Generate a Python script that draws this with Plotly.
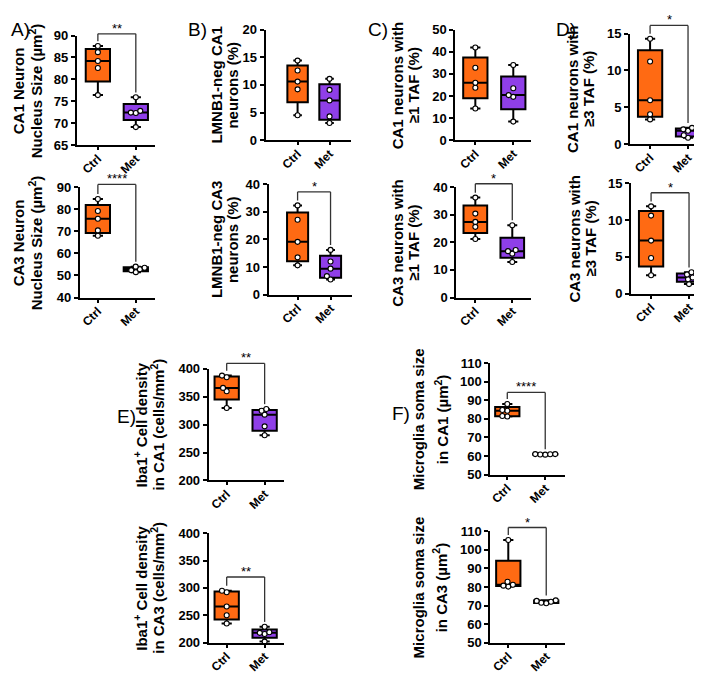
import numpy as np
import plotly.graph_objects as go

W, H = 702, 673

# ---------------- data ----------------
groups = ["Ctrl", "Met"]

a1_ctrl = [76.4, 82.6, 84.2, 86.2, 87.6]
a1_met = [69.1, 72.3, 72.4, 72.8, 75.9]
a2_ctrl = [68.0, 70.4, 75.7, 79.2, 84.6]
a2_met = [51.5, 52.4, 52.8, 53.5, 54.0]

b1_ctrl = [4.5, 9.2, 10.6, 12.6, 14.4]
b1_met = [3.1, 4.3, 7.2, 9.1, 11.1]
b2_ctrl = [10.6, 13.5, 19.1, 27.1, 32.3]
b2_met = [5.5, 6.7, 9.4, 12.0, 16.2]

c1_ctrl = [14.3, 23.7, 26.0, 32.8, 41.9]
c1_met = [8.4, 19.6, 20.4, 23.5, 34.0]
c2_ctrl = [21.2, 25.6, 27.4, 30.4, 36.2]
c2_met = [12.9, 15.9, 16.8, 17.2, 26.2]

d1_ctrl = [3.35, 4.05, 5.95, 11.2, 14.3]
d1_met = [0.85, 1.2, 1.8, 2.0, 2.2]
d2_ctrl = [2.5, 4.85, 7.2, 10.6, 11.85]
d2_met = [1.3, 1.95, 2.2, 2.6, 2.9]

e1_ctrl = [330, 360, 366, 385, 388]
e1_met = [281, 297, 318, 325, 328]
e2_ctrl = [235, 250, 266, 292, 295]
e2_met = [202, 216, 218, 219, 229]

f1_ctrl = [81.2, 81.5, 84.3, 84.7, 88.0]
f1_met = [60.7, 60.8, 60.9, 61.0, 61.0]
f2_ctrl = [80.2, 80.7, 81.2, 82.8, 105.3]
f2_met = [71.2, 71.5, 72.0, 72.5, 72.8]

y_titles = [
    ("CA1 Neuron", "Nucleus Size (µm<sup>2</sup>)"),
    ("CA3 Neuron", "Nucleus Size (µm<sup>2</sup>)"),
    ("LMNB1-neg CA1", "neurons (%)"),
    ("LMNB1-neg CA3", "neurons (%)"),
    ("CA1 neurons with", "≥1 TAF (%)"),
    ("CA3 neurons with", "≥1 TAF (%)"),
    ("CA1 neurons with", "≥3 TAF (%)"),
    ("CA3 neurons with", "≥3 TAF (%)"),
    ("Iba1<sup>+</sup> Cell density", "in CA1 (cells/mm<sup>2</sup>)"),
    ("Iba1<sup>+</sup> Cell density", "in CA3 (cells/mm<sup>2</sup>)"),
    ("Microglia soma size", "in CA1 (µm<sup>2</sup>)"),
    ("Microglia soma size", "in CA3 (µm<sup>2</sup>)"),
]
sig_labels = ["**", "****", "", "*", "", "*", "*", "*", "**", "**", "****", "*"]
sig_levels = [90.4, 91.2, None, 37.2, None, 41.2, 16.1, 13.7, 410.0, 320.0, 94.2, 112.0]

panel_letters = ["A)", "B)", "C)", "D)", "E)", "F)"]

data = [
    (a1_ctrl, a1_met), (a2_ctrl, a2_met),
    (b1_ctrl, b1_met), (b2_ctrl, b2_met),
    (c1_ctrl, c1_met), (c2_ctrl, c2_met),
    (d1_ctrl, d1_met), (d2_ctrl, d2_met),
    (e1_ctrl, e1_met), (e2_ctrl, e2_met),
    (f1_ctrl, f1_met), (f2_ctrl, f2_met),
]

# ---------------- layout geometry (pixels) ----------------
# axis_px, end_px, top_px, bottom_px, ctrl_px, met_px, ymin, ymax, dtick
geom = [
    (68, 146, 21, 133, 89, 127, 65, 90, 5),
    (71, 146, 176, 289, 89, 127, 40, 90, 10),
    (257, 342, 15, 128, 289, 321, 0, 20, 5),
    (260, 343, 173, 286, 289, 322, 0, 40, 10),
    (447, 523, 15, 128, 467, 505, 0, 50, 10),
    (448, 523, 176, 289, 467, 504, 0, 40, 10),
    (622, 697, 19, 132, 642, 680, 0, 15, 5),
    (623, 697, 172, 285, 643, 681, 0, 15, 5),
    (200, 275, 362, 476, 218, 256, 200, 400, 50),
    (200, 275, 530, 642, 218, 256, 200, 400, 50),
    (482, 557, 356, 470, 499, 537, 50, 110, 10),
    (482, 557, 528, 642, 500, 538, 50, 110, 10),
]
# x centres (px) of the glyphs of the two lines of each y title
title_x = [
    (21, 38), (21, 38),
    (220, 236), (220, 236),
    (401, 417), (401, 417),
    (577, 593), (578, 594),
    (144, 161), (144, 161),
    (422, 445), (423, 444),
]
ROT_SHIFT = -12  # rotated-annotation box centre vs glyph centre (px)
letter_pos = [(0, 15), (177, 15), (358, 15), (546, 15), (106, 411), (382, 408)]

CTRL_COLOR = "#FF6A13"
MET_COLOR = "#8F3FE8"
FONT = "Arial, Liberation Sans, sans-serif"
MARKER_D = 5.0


def swarm_offsets(vals, px_per_unit, diam):
    ys = np.asarray(vals, float) * px_per_unit
    order = np.argsort(ys)
    placed = []
    offs = np.zeros(len(ys))
    for i in order:
        y = ys[i]
        cands = [0.0]
        for px, py in placed:
            dy = abs(py - y)
            if dy < diam:
                dx = np.sqrt(diam ** 2 - dy ** 2)
                cands += [px + dx, px - dx]
        cands.sort(key=lambda c: (abs(c), c))
        for c in cands:
            if all((c - px) ** 2 + (y - py) ** 2 >= diam ** 2 - 1e-6 for px, py in placed):
                offs[i] = c
                break
        placed.append((offs[i], y))
    return offs


fig = go.Figure()
shapes = []
annotations = []
layout_axes = {}

for k, ((ctrl, met), g) in enumerate(zip(data, geom)):
    ax_px, end_px, top_px, bot_px, c_px, m_px, ymin, ymax, dtick = g
    unit_x = m_px - c_px
    xr = (-(c_px - ax_px) / unit_x, 1 + (end_px - m_px) / unit_x)
    px_per_y = (bot_px - top_px) / (ymax - ymin)
    dom_x = [ax_px / W, end_px / W]
    dom_y = [1 - bot_px / H, 1 - top_px / H]
    n = "" if k == 0 else str(k + 1)
    xa, ya = "x" + n, "y" + n

    for gi, (vals, col) in enumerate([(ctrl, CTRL_COLOR), (met, MET_COLOR)]):
        fig.add_trace(go.Box(
            x0=gi, y=vals, name=groups[gi], width=0.64, fillcolor=col,
            line=dict(color="black", width=2), boxpoints=False,
            quartilemethod="exclusive", whiskerwidth=0.42,
            xaxis=xa, yaxis=ya, showlegend=False, hoverinfo="y"))
    for gi, vals in enumerate([ctrl, met]):
        offs = swarm_offsets(vals, px_per_y, MARKER_D) / unit_x
        fig.add_trace(go.Scatter(
            x=gi + offs, y=vals, mode="markers",
            marker=dict(size=5, color="white", line=dict(color="black", width=1.1)),
            xaxis=xa, yaxis=ya, showlegend=False, cliponaxis=False))

    layout_axes["xaxis" + n] = dict(
        domain=dom_x, range=list(xr), anchor=ya, tickvals=[0, 1], ticktext=groups,
        tickangle=-45, showline=True, linecolor="black", linewidth=2,
        ticks="outside", ticklen=3, tickwidth=2, tickcolor="black",
        ticklabelstandoff=-3,
        showgrid=False, zeroline=False,
        tickfont=dict(family=FONT, size=12, color="black", weight="bold"))
    layout_axes["yaxis" + n] = dict(
        domain=dom_y, range=[ymin, ymax], anchor=xa, dtick=dtick, tick0=ymin,
        showline=True, linecolor="black", linewidth=2,
        ticks="outside", ticklen=4, tickwidth=2, tickcolor="black",
        showgrid=False, zeroline=False,
        tickfont=dict(family=FONT, size=13, color="black", weight="bold"))

    # two-line y title as rotated text
    yc = 1 - (top_px + bot_px) / 2 / H
    for line_txt, lx in zip(y_titles[k], title_x[k]):
        annotations.append(dict(
            x=(lx + ROT_SHIFT) / W, y=yc, xref="paper", yref="paper",
            text="<b>" + line_txt + "</b>",
            textangle=-90, showarrow=False, xanchor="center", yanchor="middle",
            font=dict(family=FONT, size=15, color="black")))

    # significance bracket, converted to paper coordinates
    if sig_levels[k] is not None:
        def px_x(v):
            return (ax_px + (v - xr[0]) / (xr[1] - xr[0]) * (end_px - ax_px)) / W

        def px_y(v):
            return 1 - (bot_px - (v - ymin) * px_per_y) / H

        gap = 5.0 / px_per_y
        yl = px_y(sig_levels[k])
        y_left = px_y(max(ctrl) + gap)
        y_right = px_y(max(met) + gap)
        xl, xrgt = px_x(0), px_x(1)
        line = dict(color="#333333", width=1.3)
        shapes.append(dict(type="line", xref="paper", yref="paper", x0=xl, x1=xl, y0=y_left, y1=yl, line=line))
        shapes.append(dict(type="line", xref="paper", yref="paper", x0=xl, x1=xrgt, y0=yl, y1=yl, line=line))
        shapes.append(dict(type="line", xref="paper", yref="paper", x0=xrgt, x1=xrgt, y0=y_right, y1=yl, line=line))
        annotations.append(dict(
            x=(xl + xrgt) / 2, y=yl, xref="paper", yref="paper", text=sig_labels[k],
            showarrow=False, xanchor="center", yanchor="bottom", yshift=-4,
            font=dict(family=FONT, size=13, color="black")))

for letter, (lx, ly) in zip(panel_letters, letter_pos):
    annotations.append(dict(
        x=lx / W, y=1 - ly / H, xref="paper", yref="paper", text=letter,
        showarrow=False, xanchor="left", yanchor="middle",
        font=dict(family=FONT, size=19, color="black")))

fig.update_layout(
    width=W, height=H, margin=dict(l=0, r=0, t=0, b=0),
    paper_bgcolor="white", plot_bgcolor="white", showlegend=False,
    shapes=shapes, annotations=annotations, **layout_axes)

fig.write_html("out.html")
